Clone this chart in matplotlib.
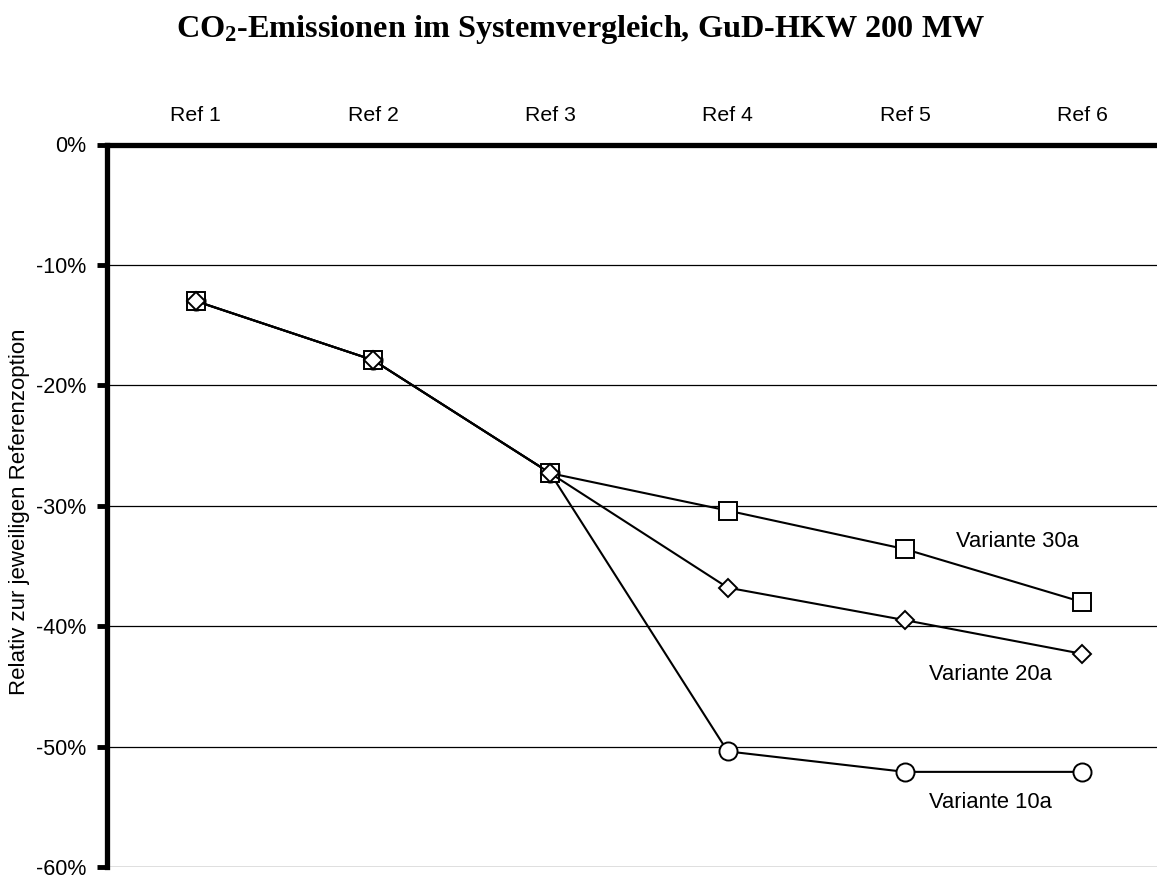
#!/usr/bin/env python3

import matplotlib
matplotlib.use("Agg")
import matplotlib.pyplot as plt
import matplotlib.ticker as ticker


IMAGE_SIZE_PX = (1157, 876)
IMAGE_DPI = 100

CATEGORIES = ["Ref 1", "Ref 2", "Ref 3", "Ref 4", "Ref 5", "Ref 6"]
VARIANTE_10A = [-13.0, -17.9, -27.3, -50.4, -52.1, -52.1]
VARIANTE_30A = [-13.0, -17.9, -27.3, -30.4, -33.6, -38.0]
VARIANTE_20A = [-13.0, -17.9, -27.3, -36.8, -39.5, -42.3]
Y_TICKS = [0, -10, -20, -30, -40, -50, -60]

TITLE = "CO$_2$-Emissionen im Systemvergleich, GuD-HKW 200 MW"
Y_LABEL = "Relativ zur jeweiligen Referenzoption"


def main():
    """Entry point."""
    plt.rcParams["font.family"] = ["Liberation Sans", "DejaVu Sans"]
    plt.rcParams["mathtext.fontset"] = "custom"
    plt.rcParams["mathtext.rm"] = "Liberation Serif:bold"
    plt.rcParams["mathtext.it"] = "Liberation Serif:bold"
    plt.rcParams["mathtext.bf"] = "Liberation Serif:bold"

    fig = plt.figure(figsize=[d / IMAGE_DPI for d in IMAGE_SIZE_PX], dpi=IMAGE_DPI)
    w, h = IMAGE_SIZE_PX
    # axes run past the right edge of the picture, like the original export
    ax = fig.add_axes([107 / w, 1 - 867 / h, 1064 / w, (867 - 144.5) / h])

    x = list(range(len(CATEGORIES)))
    line_kw = dict(color="black", linewidth=1.5, markerfacecolor="white",
                   markeredgecolor="black", markeredgewidth=1.4, zorder=3)
    ax.plot(x, VARIANTE_10A, marker="o", markersize=13, **line_kw)
    ax.plot(x, VARIANTE_30A, marker="s", markersize=13, **line_kw)
    ax.plot(x, VARIANTE_20A, marker="D", markersize=9.4, **line_kw)

    ax.text(4.636, -33.0, "Variante 30a", fontsize=15.8, ha="center", va="center")
    ax.text(4.484, -44.0, "Variante 20a", fontsize=15.8, ha="center", va="center")
    ax.text(4.484, -54.65, "Variante 10a", fontsize=15.8, ha="center", va="center")

    ax.set_xlim(-0.5, len(CATEGORIES) - 0.5)
    ax.set_ylim(min(Y_TICKS), max(Y_TICKS))
    ax.set_xticks(x)
    ax.set_xticklabels(CATEGORIES)
    ax.xaxis.tick_top()
    ax.tick_params(axis="x", length=0, pad=14, labelsize=15.3)
    ax.set_yticks(Y_TICKS)
    ax.yaxis.set_major_formatter(ticker.FuncFormatter(lambda v, _: f"{v:.0f}%"))
    ax.tick_params(axis="y", length=7, width=3.5, pad=8, labelsize=15.5)

    ax.grid(True, axis="y", color="black", linewidth=0.9)
    ax.set_axisbelow(True)
    for side in ("bottom", "right"):
        ax.spines[side].set_visible(False)
    for side in ("top", "left"):
        ax.spines[side].set_linewidth(3.8)
        ax.spines[side].set_zorder(4)

    fig.text(20 / w, 1 - 512 / h, Y_LABEL,
             rotation=90, fontsize=16, ha="center", va="center")
    fig.text(581 / w, 1 - 37.5 / h, TITLE, fontsize=23.2, ha="center", va="baseline",
             family="Liberation Serif", fontweight="bold")

    fig.savefig("out.png", dpi=IMAGE_DPI)


if __name__ == "__main__":
    main()
